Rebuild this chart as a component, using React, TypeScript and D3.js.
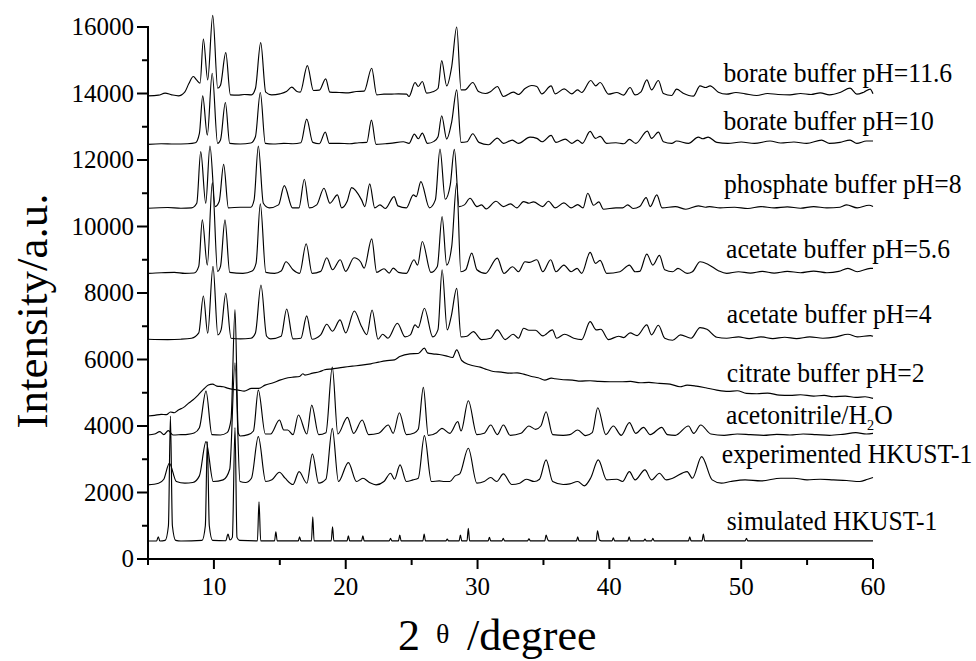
import React from "react";
import * as d3 from "d3";

type P = [number, number];

// ---- data (2θ in degree, intensity in a.u.) ----
const seriesNames = [
  "borate buffer pH=11.6",
  "borate buffer pH=10",
  "phosphate buffer pH=8",
  "acetate buffer pH=5.6",
  "acetate buffer pH=4",
  "citrate buffer pH=2",
  "acetonitrile/H2O",
  "experimented HKUST-1",
  "simulated HKUST-1",
];

const borate11_6: P[] = [[5.0,13930],[5.8,13950],[6.3,14010],[6.8,13960],[7.3,13930],[7.8,14050],[8.1,14300],[8.44,14510],[8.7,14400],[8.95,14310],[9.2,15640],[9.53,14410],[9.91,16350],[10.29,14160],[10.5,14250],[10.9,15230],[11.25,13960],[11.8,13950],[12.3,13970],[12.85,13960],[13.15,14150],[13.55,15530],[13.93,14040],[14.38,13960],[15.0,13990],[15.5,14060],[15.9,14190],[16.3,14060],[16.55,14040],[17.09,14840],[17.55,14090],[18.0,14100],[18.48,14440],[18.8,14040],[19.5,14030],[20.2,14020],[20.8,14060],[21.4,14070],[21.97,14760],[22.35,13960],[22.9,13980],[23.36,13980],[24.0,13990],[24.62,13980],[24.8,13910],[25.26,14330],[25.5,14210],[25.81,14360],[26.14,14010],[26.6,14050],[27.0,14150],[27.28,14990],[27.66,14230],[28.04,14810],[28.42,16000],[28.75,14110],[29.05,14110],[29.64,14330],[30.07,14060],[30.6,14000],[31.0,14060],[31.5,14210],[31.96,13910],[32.72,14040],[33.1,13970],[33.6,14150],[34.11,14240],[34.5,14210],[34.88,13990],[35.58,14230],[35.89,13990],[36.57,14140],[37.15,13990],[37.58,14110],[37.9,14030],[38.59,14390],[38.97,14230],[39.3,14330],[39.93,13980],[40.56,14030],[41.07,13950],[41.57,14180],[41.95,13960],[42.4,14050],[42.84,14410],[43.2,14110],[43.72,14390],[44.1,14000],[44.73,13940],[45.1,14130],[45.6,14010],[46.37,13920],[46.88,14230],[47.3,14180],[47.64,14230],[48.27,14040],[48.9,13980],[49.6,14030],[50.3,13990],[51.18,13940],[52.0,14000],[52.8,13970],[53.7,13960],[54.5,14000],[55.3,13970],[56.0,14020],[56.7,13960],[57.5,14030],[58.26,14160],[58.77,13980],[59.3,14040],[59.78,14130],[60.0,13990]];

const borate10: P[] = [[5.0,12470],[6.0,12490],[7.0,12480],[8.0,12490],[8.6,12520],[8.9,12800],[9.15,13930],[9.5,12750],[9.87,14610],[10.28,12500],[10.5,12600],[10.87,13730],[11.2,12500],[12.0,12480],[12.8,12510],[13.15,12700],[13.52,14030],[13.9,12500],[14.5,12480],[15.3,12500],[16.0,12490],[16.6,12520],[17.04,13230],[17.5,12530],[18.0,12490],[18.45,12840],[18.75,12500],[19.5,12500],[20.3,12490],[21.0,12520],[21.6,12530],[21.95,13200],[22.3,12470],[23.0,12490],[23.36,12500],[24.37,12550],[24.8,12500],[25.21,12780],[25.5,12640],[25.81,12810],[26.2,12500],[26.7,12560],[27.0,12700],[27.28,13330],[27.66,12630],[28.04,13150],[28.42,14110],[28.75,12530],[29.2,12550],[29.64,12790],[30.1,12530],[30.83,12460],[31.5,12660],[31.96,12500],[32.64,12600],[33.1,12500],[33.98,12690],[34.5,12650],[34.9,12550],[35.58,12740],[35.95,12530],[36.65,12630],[37.15,12500],[37.58,12600],[37.95,12500],[38.54,12860],[38.95,12650],[39.3,12710],[39.8,12500],[40.5,12520],[41.1,12490],[41.52,12620],[42.0,12500],[42.88,12870],[43.2,12650],[43.72,12840],[44.1,12550],[44.73,12500],[45.1,12570],[46.0,12500],[46.75,12690],[47.1,12640],[47.5,12690],[48.15,12530],[49.0,12500],[50.0,12540],[51.0,12500],[52.19,12570],[53.0,12510],[54.0,12540],[54.97,12500],[56.1,12600],[56.7,12500],[57.5,12530],[58.26,12600],[58.77,12500],[59.5,12570],[60.0,12570]];

const phosphate8: P[] = [[5.0,10550],[6.5,10570],[7.5,10550],[8.3,10560],[8.7,10700],[9.0,12250],[9.38,10700],[9.7,12420],[10.1,10600],[10.4,10750],[10.74,11870],[11.1,10560],[12.0,10580],[12.8,10580],[13.05,10800],[13.37,12420],[13.75,10700],[14.2,10560],[14.9,10650],[15.34,11230],[15.96,10560],[16.45,10560],[16.86,11420],[17.24,10560],[17.8,10650],[18.35,11150],[18.8,10700],[19.37,10950],[19.69,10560],[20.1,10750],[20.45,11170],[21.2,10800],[21.45,10600],[21.82,11280],[22.2,10560],[22.6,10650],[23.0,10540],[23.67,10900],[23.96,10620],[24.6,10560],[25.13,10950],[25.35,10900],[25.7,11350],[26.35,10560],[26.8,10800],[27.15,12330],[27.55,10820],[27.93,11250],[28.24,12320],[28.6,10600],[29.0,10650],[29.43,10850],[29.95,10600],[30.3,10650],[30.65,10530],[31.4,10760],[31.95,10600],[32.5,10680],[32.98,10560],[33.49,10750],[33.9,10700],[34.24,10740],[34.95,10600],[35.38,10760],[35.9,10560],[36.55,10710],[37.1,10560],[37.6,10660],[38.0,10560],[38.36,11000],[38.8,10640],[39.2,10740],[39.55,10520],[40.5,10560],[41.0,10560],[41.39,10650],[41.8,10540],[42.3,10600],[42.79,10870],[43.1,10600],[43.6,10950],[44.0,10560],[45.0,10600],[45.8,10520],[46.75,10620],[47.3,10580],[47.6,10600],[48.4,10560],[49.5,10580],[50.5,10540],[51.5,10600],[52.5,10560],[53.5,10590],[54.5,10550],[55.5,10600],[56.5,10560],[57.5,10580],[58.0,10650],[58.8,10560],[59.7,10640],[60.0,10600]];

const acetate5_6: P[] = [[5.0,8590],[6.0,8610],[7.0,8620],[7.8,8590],[8.5,8600],[8.85,8800],[9.12,10200],[9.5,8840],[9.88,11320],[10.28,8650],[10.5,8800],[10.84,10200],[11.2,8620],[12.2,8590],[12.9,8660],[13.2,8900],[13.52,10680],[13.94,8620],[14.6,8590],[15.1,8660],[15.47,8940],[16.0,8700],[16.5,8590],[17.0,9480],[17.45,8590],[18.1,8650],[18.56,9060],[19.0,8700],[19.58,9000],[20.0,8650],[20.63,9060],[21.12,8940],[21.4,8750],[21.97,9630],[22.35,8620],[22.9,8730],[23.3,8600],[23.6,8750],[24.0,8620],[24.6,8590],[25.18,9000],[25.45,8840],[25.81,9550],[26.46,8620],[26.95,8800],[27.31,10300],[27.66,8840],[28.04,9400],[28.42,11300],[28.73,8640],[29.1,8700],[29.56,9200],[29.95,8700],[30.6,8590],[31.5,9050],[32.0,8590],[32.66,8790],[33.1,8640],[33.6,8940],[33.95,8920],[34.5,9000],[34.95,8640],[35.55,9000],[35.95,8640],[36.55,8840],[37.1,8640],[37.55,8740],[37.9,8590],[38.54,9220],[38.95,8890],[39.3,8980],[39.8,8590],[40.8,8640],[41.52,8840],[41.95,8640],[42.3,8650],[42.84,9170],[43.3,8840],[43.8,9130],[44.2,8700],[44.8,8640],[45.2,8740],[45.9,8590],[46.3,8640],[46.88,8940],[47.5,8860],[48.27,8670],[48.9,8590],[49.8,8640],[50.7,8600],[51.6,8650],[52.5,8600],[53.5,8650],[54.5,8610],[55.5,8660],[56.5,8610],[57.4,8650],[58.1,8740],[58.8,8640],[59.8,8740],[60.0,8740]];

const acetate4: P[] = [[5.0,6610],[6.5,6600],[7.5,6610],[8.3,6640],[8.85,6800],[9.2,7910],[9.53,6790],[9.93,8800],[10.3,6740],[10.55,6900],[10.9,7990],[11.3,6640],[12.0,6620],[12.8,6640],[13.15,6800],[13.57,8240],[14.0,6700],[14.3,6620],[15.1,6700],[15.52,7520],[16.0,6620],[16.6,6640],[17.04,7310],[17.45,6610],[18.1,6740],[18.56,7060],[19.0,6850],[19.57,7190],[20.0,6800],[20.65,7460],[21.2,6990],[21.6,6750],[22.0,7490],[22.45,6610],[22.8,6760],[23.2,6640],[23.92,7090],[24.5,6680],[24.9,6740],[25.26,7040],[25.5,6960],[25.97,7540],[26.6,6680],[27.0,6900],[27.31,8700],[27.7,6890],[28.0,7290],[28.42,8140],[28.75,6680],[29.2,6700],[29.68,6840],[30.3,6600],[31.0,6640],[31.5,6890],[32.1,6600],[32.7,6760],[33.1,6640],[33.5,6940],[33.9,6880],[34.4,6880],[34.95,6710],[35.68,6890],[36.0,6640],[36.6,6760],[37.3,6640],[37.9,6600],[38.54,7140],[39.0,6890],[39.35,6910],[39.94,6600],[40.7,6700],[41.1,6660],[41.57,6800],[42.1,6720],[42.84,7040],[43.2,6740],[43.72,7030],[44.2,6640],[44.8,6580],[45.4,6740],[46.2,6640],[46.88,6960],[47.4,6910],[48.15,6670],[48.9,6640],[49.8,6680],[50.6,6630],[51.5,6680],[52.4,6630],[53.3,6670],[54.2,6630],[55.2,6680],[56.2,6640],[57.2,6680],[58.1,6760],[58.8,6680],[59.8,6720],[60.0,6700]];

const citrate2: P[] = [[5.0,4300],[5.5,4320],[6.0,4350],[6.4,4340],[6.7,4420],[7.0,4400],[7.3,4480],[7.7,4560],[8.06,4680],[8.4,4780],[8.8,4930],[9.2,5100],[9.58,5230],[9.9,5260],[10.22,5200],[10.7,5180],[11.1,5130],[11.5,5100],[11.85,5080],[12.3,5050],[12.86,5130],[13.4,5130],[13.88,5230],[14.5,5300],[15.0,5380],[15.4,5430],[16.0,5470],[16.5,5490],[16.75,5570],[16.9,5530],[17.5,5590],[18.0,5630],[18.4,5690],[19.0,5720],[19.5,5750],[19.9,5770],[20.5,5800],[21.2,5830],[21.9,5870],[22.5,5920],[23.0,5960],[23.7,5990],[24.1,6090],[24.87,6170],[25.5,6180],[25.97,6340],[26.2,6200],[26.6,6170],[27.1,6150],[27.6,6110],[28.1,6060],[28.42,6290],[28.8,5970],[29.4,5840],[30.2,5770],[30.7,5700],[31.2,5640],[31.8,5620],[32.47,5590],[33.0,5600],[33.5,5560],[34.1,5490],[34.6,5450],[35.1,5380],[35.6,5440],[35.88,5420],[36.5,5390],[37.2,5380],[37.8,5350],[38.54,5360],[39.2,5340],[40.06,5330],[41.0,5330],[41.6,5340],[42.34,5300],[43.0,5310],[43.8,5280],[44.6,5260],[45.36,5180],[45.9,5230],[46.6,5200],[47.3,5150],[48.15,5080],[49.0,5040],[49.7,5060],[50.4,4980],[51.2,4970],[52.0,4990],[52.9,4930],[53.7,4920],[54.5,4940],[55.5,4900],[56.3,4920],[57.0,4880],[57.9,4900],[58.7,4860],[59.4,4880],[60.0,4830]];

const acetonitrileH2O: P[] = [[5.0,3730],[5.5,3760],[5.9,3830],[6.2,3740],[6.54,3860],[6.9,3730],[7.5,3740],[8.0,3750],[8.5,3790],[8.9,3950],[9.4,5050],[9.85,3740],[10.5,3730],[11.0,3800],[11.3,4200],[11.6,7500],[11.85,3790],[12.0,3700],[12.6,3740],[13.0,3850],[13.37,5080],[13.9,3760],[14.3,3760],[14.97,4180],[15.3,3880],[15.6,3880],[16.0,3740],[16.41,4330],[17.05,3760],[17.42,4630],[17.95,3740],[18.5,3800],[18.98,5770],[19.4,3760],[20.13,4260],[20.6,3780],[21.25,4180],[21.74,3740],[22.5,3780],[23.23,4030],[23.6,3780],[24.07,4400],[24.6,3740],[25.2,3790],[25.5,3900],[25.89,5160],[26.26,3720],[26.9,3800],[27.3,3930],[27.9,3780],[28.5,4130],[28.75,3850],[29.3,4760],[29.95,3740],[30.5,3780],[31.0,4030],[31.5,3740],[31.96,4030],[32.48,3720],[33.3,3780],[33.9,4000],[34.4,3900],[34.8,4000],[35.2,4430],[35.7,3740],[36.5,3720],[37.0,3740],[37.6,3880],[38.2,3710],[38.7,3800],[39.12,4550],[39.73,3740],[40.3,4000],[40.9,3720],[41.52,4100],[42.0,3780],[42.59,3960],[43.1,3740],[43.97,3960],[44.4,3740],[45.0,3720],[46.0,4000],[46.4,3780],[46.93,4030],[47.7,3760],[48.7,3720],[49.7,3760],[50.7,3740],[51.7,3720],[52.7,3750],[53.7,3730],[54.7,3760],[55.7,3740],[56.7,3720],[57.7,3750],[58.7,3800],[59.5,3760],[60.0,3780]];

const experimented: P[] = [[5.0,2230],[5.8,2280],[6.2,2400],[6.62,2880],[7.15,2330],[7.8,2280],[8.4,2300],[8.9,2500],[9.4,3530],[9.95,2330],[10.7,2380],[11.2,2700],[11.6,5900],[11.98,2330],[12.4,2300],[12.85,2430],[13.37,3680],[13.93,2330],[14.4,2380],[14.97,2610],[15.4,2430],[16.0,2240],[16.46,2630],[17.05,2280],[17.47,3160],[17.95,2280],[18.5,2400],[18.98,3930],[19.45,2330],[20.2,2900],[20.82,2330],[21.3,2430],[21.8,2300],[22.3,2230],[22.9,2330],[23.4,2580],[23.7,2400],[24.12,2830],[24.6,2330],[25.1,2380],[25.5,2430],[25.97,3710],[26.5,2330],[27.1,2350],[27.5,2330],[27.9,2330],[28.3,2500],[28.65,2560],[29.3,3330],[29.95,2280],[30.5,2330],[31.0,2450],[31.45,2330],[31.96,2560],[32.6,2240],[33.2,2280],[33.7,2400],[34.3,2330],[34.7,2400],[35.2,2980],[35.7,2330],[36.5,2240],[37.0,2260],[37.6,2330],[38.1,2200],[38.6,2450],[39.16,2980],[39.8,2380],[40.56,2400],[41.0,2330],[41.52,2630],[41.95,2380],[42.7,2680],[43.2,2380],[43.8,2580],[44.3,2380],[44.8,2430],[45.9,2630],[46.3,2430],[47.0,3080],[47.8,2380],[48.5,2280],[49.2,2330],[50.3,2380],[51.5,2350],[53.0,2430],[54.0,2430],[55.0,2380],[56.0,2400],[57.0,2380],[58.0,2360],[59.0,2330],[59.6,2400],[60.0,2450]];

const simulated: P[] = [[5.0,540],[5.65,540],[5.78,670],[5.9,540],[6.3,560],[6.55,1000],[6.7,4300],[6.85,1000],[7.1,560],[7.5,540],[9.1,560],[9.35,1000],[9.5,3530],[9.65,1000],[9.9,560],[10.9,550],[11.07,750],[11.22,570],[11.4,650],[11.6,3950],[11.75,650],[11.95,560],[13.3,545],[13.42,1720],[13.55,545],[14.6,545],[14.7,820],[14.8,545],[16.4,545],[16.5,670],[16.6,545],[17.4,545],[17.5,1270],[17.6,545],[18.9,545],[19.0,970],[19.1,545],[20.1,545],[20.2,700],[20.3,545],[21.2,545],[21.3,700],[21.4,545],[23.3,545],[23.4,620],[23.5,545],[24.0,545],[24.1,720],[24.2,545],[25.85,545],[25.95,750],[26.05,545],[27.6,545],[27.7,600],[27.8,545],[28.6,545],[28.7,720],[28.8,545],[29.2,545],[29.3,920],[29.4,545],[30.8,545],[30.9,650],[31.0,545],[31.85,545],[31.95,620],[32.05,545],[33.8,545],[33.9,610],[34.0,545],[35.1,545],[35.2,720],[35.3,610],[35.4,545],[37.5,545],[37.6,670],[37.7,545],[39.0,545],[39.1,850],[39.25,570],[39.4,545],[40.2,545],[40.3,640],[40.4,545],[41.4,545],[41.5,670],[41.6,545],[42.6,545],[42.7,600],[42.8,545],[43.2,545],[43.3,620],[43.4,545],[46.0,545],[46.1,670],[46.2,545],[47.03,545],[47.13,750],[47.23,545],[50.3,545],[50.4,620],[50.5,545],[60.0,545]];

const seriesData: P[][] = [borate11_6, borate10, phosphate8, acetate5_6, acetate4, citrate2, acetonitrileH2O, experimented, simulated];

// label anchor: 2θ where each label starts, intensity at label baseline
const labelX = [48.65, 48.65, 48.7, 48.85, 48.91, 48.91, 48.85, 48.53, 48.91];
const labelY = [14357, 12904, 11000, 9045, 7089, 5333, 4061, 2897, 872];

const xMajorTicks = [10, 20, 30, 40, 50, 60];
const xMinorTicks = [5, 15, 25, 35, 45, 55];
const yMajorTicks = [0, 2000, 4000, 6000, 8000, 10000, 12000, 14000, 16000];
const yMinorTicks = [1000, 3000, 5000, 7000, 9000, 11000, 13000, 15000];

const FONT = "'Liberation Serif', 'Times New Roman', Times, serif";

export default function App() {
  const W = 976, H = 661;
  const x = d3.scaleLinear().domain([5, 60]).range([148, 873]);
  const y = d3.scaleLinear().domain([0, 16000]).range([559, 27]);
  const line = d3.line<P>().x(d => x(d[0])).y(d => y(d[1])).curve(d3.curveMonotoneX);

  return (
    <svg width={W} height={H} style={{ position: "absolute", left: 0, top: 0, background: "#fff" }} fontFamily={FONT}>
      <rect width={W} height={H} fill="#fff" />
      {seriesData.map((s, i) => (
        <path key={i} d={line(s) || ""} fill="none" stroke="#000" strokeWidth={1.15} strokeLinejoin="round" />
      ))}
      {/* axes */}
      <line x1={x(5)} x2={x(60)} y1={y(0)} y2={y(0)} stroke="#000" strokeWidth={2} />
      <line x1={x(5)} x2={x(5)} y1={y(0)} y2={y(16000) - 1} stroke="#000" strokeWidth={2} />
      {xMajorTicks.map(t => (
        <g key={"xm" + t}>
          <line x1={x(t)} x2={x(t)} y1={y(0)} y2={y(0) + 10} stroke="#000" strokeWidth={2} />
          <text x={x(t)} y={y(0) + 36} textAnchor="middle" fontSize={25}>{t}</text>
        </g>
      ))}
      {xMinorTicks.map(t => (
        <line key={"xn" + t} x1={x(t)} x2={x(t)} y1={y(0)} y2={y(0) + 6} stroke="#000" strokeWidth={2} />
      ))}
      {yMajorTicks.map(t => (
        <g key={"ym" + t}>
          <line x1={x(5) - 11} x2={x(5)} y1={y(t)} y2={y(t)} stroke="#000" strokeWidth={2} />
          <text x={x(5) - 14} y={y(t) + 8} textAnchor="end" fontSize={25}>{t}</text>
        </g>
      ))}
      {yMinorTicks.map(t => (
        <line key={"yn" + t} x1={x(5) - 6} x2={x(5)} y1={y(t)} y2={y(t)} stroke="#000" strokeWidth={2} />
      ))}
      {/* series labels */}
      {seriesNames.map((n, i) => (
        <text key={"l" + i} transform={`translate(${x(labelX[i])},${y(labelY[i])}) scale(0.95,1)`} fontSize={27}>
          {n === "acetonitrile/H2O" ? (
            <>acetonitrile/H<tspan fontSize={15} dy={6}>2</tspan><tspan dy={-6}>O</tspan></>
          ) : n}
        </text>
      ))}
      {/* axis titles */}
      <text transform={`translate(47,311) rotate(-90)`} textAnchor="middle" fontSize={45}>Intensity/a.u.</text>
      <text x={398} y={650} fontSize={44}>2</text>
      <text x={436} y={643} fontSize={28}>θ</text>
      <text x={467} y={650} fontSize={44}>/degree</text>
    </svg>
  );
}
